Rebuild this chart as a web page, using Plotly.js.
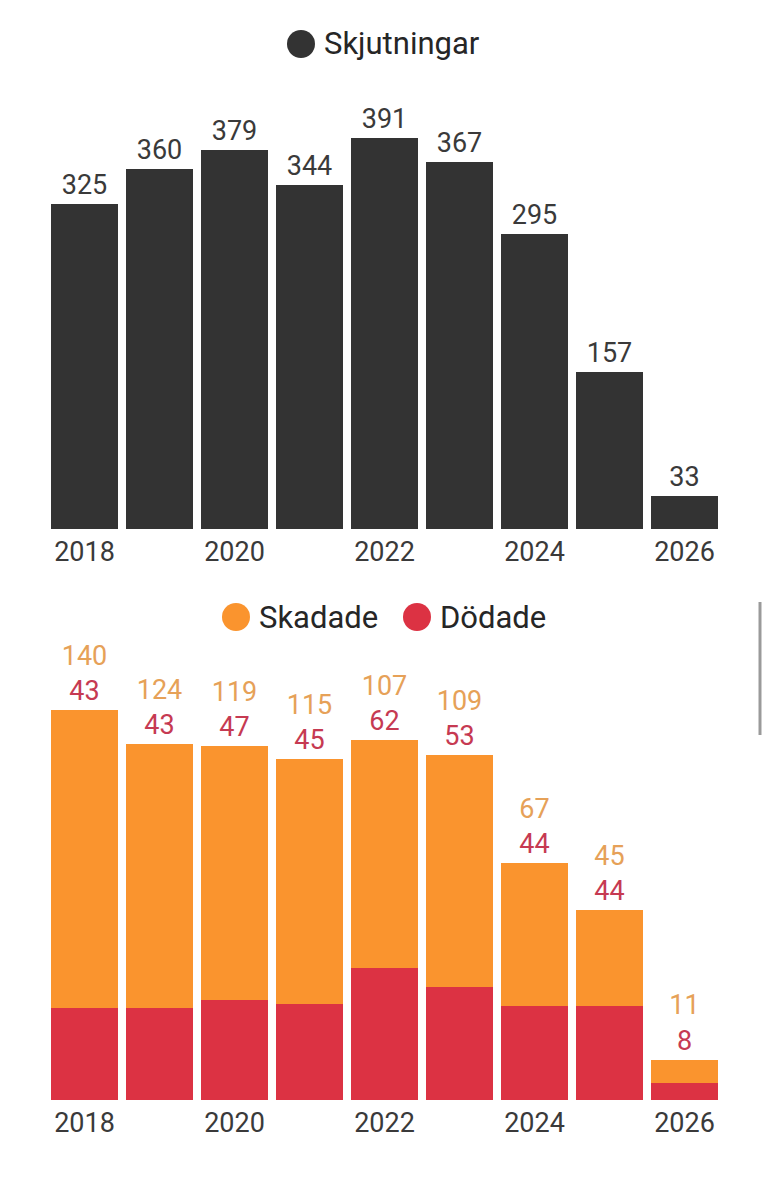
<!DOCTYPE html>
<html>
<head>
<meta charset="utf-8">
<script src="https://cdn.plot.ly/plotly-3.0.1.min.js"></script>
<style>
  html, body { margin: 0; padding: 0; background: #ffffff; }
  #shots { width: 769px; height: 590px; }
  #victims { width: 769px; height: 587px; }
</style>
</head>
<body>
<div id="shots"></div>
<div id="victims"></div>
<script>
// ---- data ----
const years = [2018, 2019, 2020, 2021, 2022, 2023, 2024, 2025, 2026];
const tickYears = [2018, 2020, 2022, 2024, 2026];
const skjutningar = [325, 360, 379, 344, 391, 367, 295, 157, 33];
const skadade = [140, 124, 119, 115, 107, 109, 67, 45, 11];
const dodade = [43, 43, 47, 45, 62, 53, 44, 44, 8];
const seriesTop = ["Skjutningar"];
const seriesBottom = ["Skadade", "Dödade"];

// ---- styles ----
const FONT = "Roboto, 'Noto Sans', sans-serif";
const DARK = "#333333";
const ORANGE = "#fa942e";
const RED = "#dc3243";
const ORANGE_TXT = "#e6a158";
const RED_TXT = "#c63a52";

const plotConfig = { displayModeBar: false, staticPlot: true };

function px2paperX(px) {
  // plot area runs from 47 to 722 px
  return (px - 47) / 675;
}

function xAxis() {
  return {
    range: [-0.5, 8.5],
    tickmode: "array",
    tickvals: tickYears.map(y => years.indexOf(y)),
    ticktext: tickYears.map(String),
    ticks: "",
    ticklabelstandoff: 4,
    showgrid: false,
    zeroline: false,
    showline: false,
    fixedrange: true,
    tickfont: { family: FONT, size: 27, color: "#3a3a3a" }
  };
}

function legendItem(px, py, color, label) {
  // circle + label, placed in paper coords of the plot
  return {
    shape: {
      type: "circle", xref: "paper", yref: "paper",
      xsizemode: "pixel", ysizemode: "pixel",
      xanchor: px2paperX(px + 14), yanchor: py,
      x0: -14, x1: 14, y0: -14, y1: 14,
      fillcolor: color, line: { width: 0 }
    },
    annotation: {
      xref: "paper", yref: "paper",
      x: px2paperX(px + 35), y: py,
      xanchor: "left", yanchor: "middle",
      text: label, showarrow: false,
      font: { family: FONT, size: 31, color: "#262626" }
    }
  };
}


// ==========================================================
// TOP CHART: Skjutningar
// ==========================================================

let x = years.map((y, i) => i);

let topLegend = legendItem(287, 1 + 46 / 439, DARK, seriesTop[0]);

Plotly.newPlot(
  "shots",
  [
    {
      x: x,
      y: skjutningar,
      type: "bar",
      name: seriesTop[0],
      marker: { color: DARK },
      text: skjutningar.map(String),
      textposition: "outside",
      constraintext: "none",
      cliponaxis: false,
      textfont: { family: FONT, size: 27, color: "#3a3a3a" },
      showlegend: false
    }
  ],
  {
    width: 769,
    height: 590,
    margin: { l: 47, r: 47, t: 90, b: 61 },
    paper_bgcolor: "#ffffff",
    plot_bgcolor: "#ffffff",
    bargap: 8 / 75,
    xaxis: xAxis(),
    yaxis: { range: [0, 439], visible: false, fixedrange: true },
    shapes: [topLegend.shape],
    annotations: [topLegend.annotation],
    hovermode: false
  },
  plotConfig
);


// ==========================================================
// BOTTOM CHART: Skadade / Dödade
// ==========================================================

let stackText = skadade.map((v, i) =>
  '<span style="color:' + ORANGE_TXT + '">' + v + '</span><br>' +
  '<span style="color:' + RED_TXT + '">' + dodade[i] + '</span>'
);

let legY = 1 + (90 - 27) / 420;
let legA = legendItem(222, legY, ORANGE, seriesBottom[0]);
let legB = legendItem(403, legY, RED, seriesBottom[1]);

Plotly.newPlot(
  "victims",
  [
    {
      x: x,
      y: dodade,
      type: "bar",
      name: seriesBottom[1],
      marker: { color: RED },
      showlegend: false
    },
    {
      x: x,
      y: skadade,
      type: "bar",
      name: seriesBottom[0],
      marker: { color: ORANGE },
      text: stackText,
      textposition: "outside",
      constraintext: "none",
      cliponaxis: false,
      textfont: { family: FONT, size: 27, color: "#3a3a3a" },
      showlegend: false
    }
  ],
  {
    width: 769,
    height: 587,
    margin: { l: 47, r: 47, t: 90, b: 77 },
    paper_bgcolor: "#ffffff",
    plot_bgcolor: "#ffffff",
    barmode: "stack",
    bargap: 8 / 75,
    xaxis: xAxis(),
    yaxis: { range: [0, 420 / 2.131], visible: false, fixedrange: true },
    shapes: [
      legA.shape,
      legB.shape,
      // scroll indicator at the right edge
      {
        type: "line", xref: "paper", yref: "paper",
        x0: px2paperX(760), x1: px2paperX(760),
        y0: (510 - 12) / 420, y1: (510 - 145) / 420,
        line: { color: "#9a9a9a", width: 3 }
      }
    ],
    annotations: [legA.annotation, legB.annotation],
    hovermode: false
  },
  plotConfig
);
</script>
</body>
</html>
